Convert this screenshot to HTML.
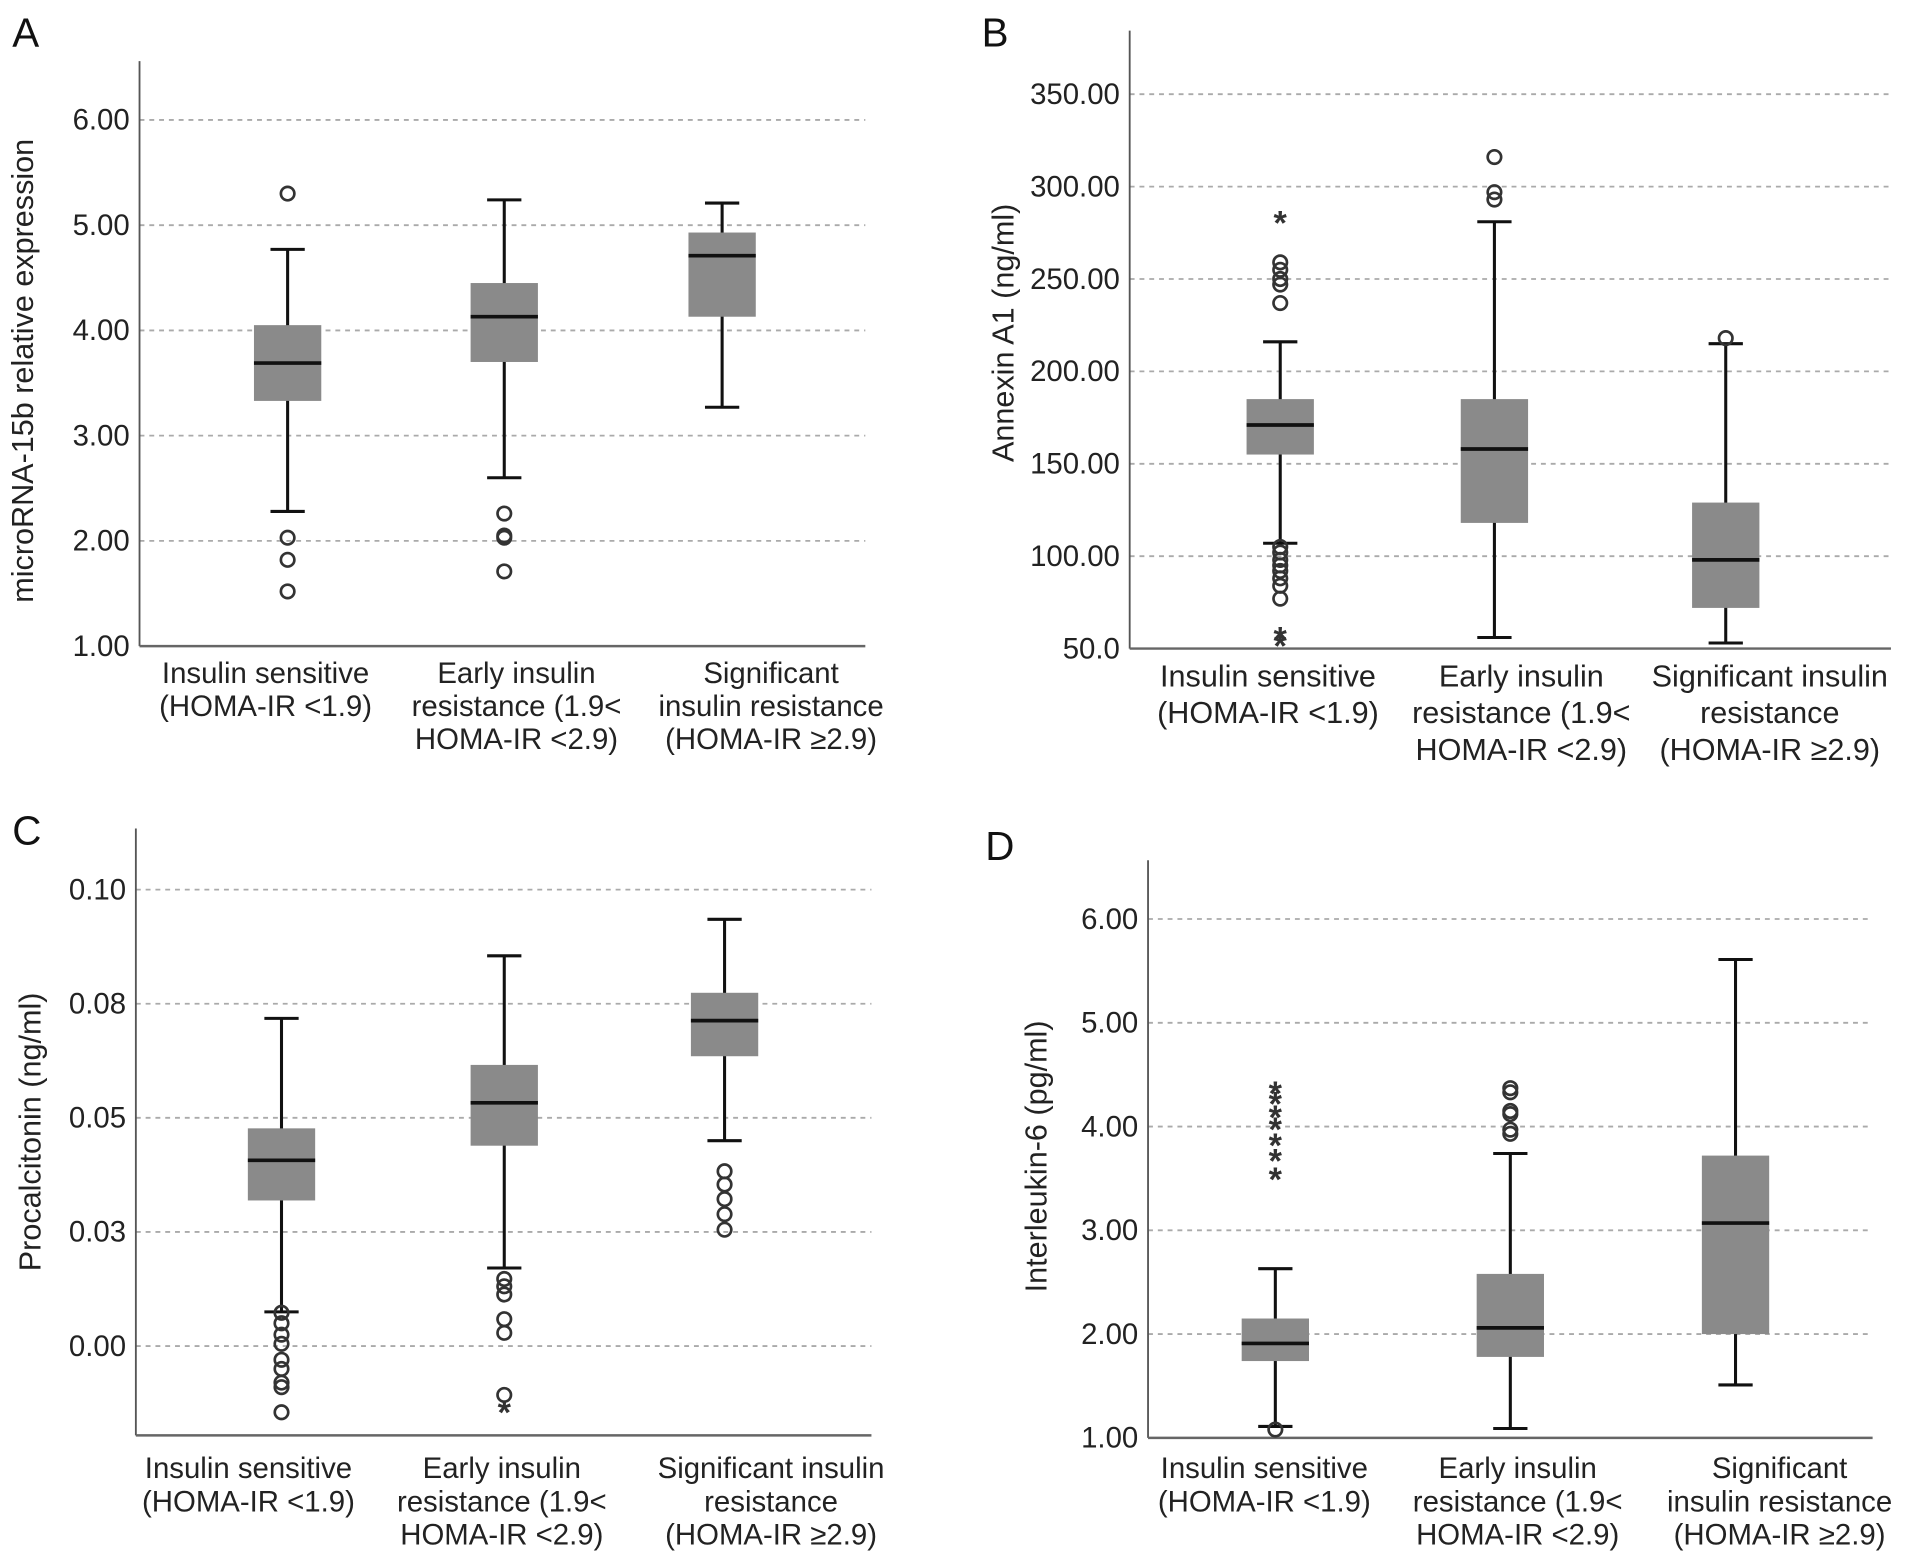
<!DOCTYPE html>
<html><head><meta charset="utf-8"><style>
html,body{margin:0;padding:0;background:#fff;}
svg{display:block;font-family:"Liberation Sans",Arial,sans-serif;}
</style></head><body>
<svg id="fig" width="1913" height="1559" viewBox="0 0 1563 1274" preserveAspectRatio="none" xmlns="http://www.w3.org/2000/svg"></svg>
<script>
// ---- data ----
const categories = [["Insulin sensitive","(HOMA-IR <1.9)"],["Early insulin","resistance (1.9<","HOMA-IR <2.9)"],["Significant","insulin resistance","(HOMA-IR \u22652.9)"]];
const categoriesB = [["Insulin sensitive","(HOMA-IR <1.9)"],["Early insulin","resistance (1.9<","HOMA-IR <2.9)"],["Significant insulin","resistance","(HOMA-IR \u22652.9)"]];
// A: [low, q1, median, q3, high]
const boxesA = [[2.28,3.33,3.69,4.05,4.77],[2.60,3.70,4.13,4.45,5.24],[3.27,4.13,4.71,4.93,5.21]];
const circlesA = [[5.30,2.03,1.82,1.52],[2.26,2.05,2.03,1.71],[]];
const starsA = [[],[],[]];
const ticksA = [1,2,3,4,5,6];
const tickLabelsA = ["1.00","2.00","3.00","4.00","5.00","6.00"];
// B
const boxesB = [[107,155,171,185,216],[56,118,158,185,281],[53,72,98,129,215]];
const circlesB = [[259,255,250,247,237,105,102,98,95,92,88,84,77],[316,297,293],[218]];
const starsB = [[282,57,53],[],[]];
const ticksB = [50,100,150,200,250,300,350];
const tickLabelsB = ["50.0","100.00","150.00","200.00","250.00","300.00","350.00"];
// C
const boxesC = [[0.0075,0.0319,0.0407,0.0477,0.0718],[0.0171,0.0439,0.0533,0.0616,0.0855],[0.045,0.0635,0.0713,0.0774,0.0935]];
const circlesC = [[0.0073,0.005,0.0025,0.0005,-0.003,-0.005,-0.008,-0.009,-0.0145],[0.0147,0.0131,0.0113,0.0059,0.0029,-0.0107],[0.0383,0.0354,0.0322,0.0289,0.0255]];
const starsC = [[],[-0.0139],[]];
const ticksC = [0,0.025,0.05,0.075,0.1];
const tickLabelsC = ["0.00","0.03","0.05","0.08","0.10"];
// D
const boxesD = [[1.11,1.74,1.91,2.15,2.63],[1.09,1.78,2.06,2.58,3.74],[1.51,2.00,3.07,3.72,5.61]];
const circlesD = [[1.08],[4.37,4.33,4.15,4.12,3.97,3.93],[]];
const starsD = [[4.35,4.25,4.12,4.0,3.85,3.7,3.52],[],[]];
const ticksD = [1,2,3,4,5,6];
const tickLabelsD = ["1.00","2.00","3.00","4.00","5.00","6.00"];

const NS="http://www.w3.org/2000/svg";
const svg=document.getElementById('fig');
function mk(tag,attrs,parent){const e=document.createElementNS(NS,tag);for(const k in attrs)e.setAttribute(k,attrs[k]);(parent||svg).appendChild(e);return e;}

const panels=[
 {id:'a',letter:'A',lx:10,ly:38,ax:114,top:50,bottom:528,right:707,vmin:1,vmax:6,ymax:98,cx:[235,412,590],lcx:[217,422,630],title:'microRNA-15b relative expression',tx:27,ty:303,boxes:boxesA,circles:circlesA,stars:starsA,ticks:ticksA,tl:tickLabelsA,cats:categories,catY:[558,585,612],fs:24},
 {id:'b',letter:'B',lx:802,ly:38,ax:923,top:25,bottom:530,right:1545,vmin:50,vmax:350,ymax:77,cx:[1046,1221,1410],lcx:[1036,1243,1446],title:'Annexin A1 (ng/ml)',tx:828,ty:272,boxes:boxesB,circles:circlesB,stars:starsB,ticks:ticksB,tl:tickLabelsB,cats:categoriesB,catY:[561,591,621],fs:25},
 {id:'c',letter:'C',lx:10,ly:690,ax:111,top:677,bottom:1173,right:712,vmin:0,vmax:0.1,ymax:727,ybase:1100,cx:[230,412,592],lcx:[203,410,630],title:'Procalcitonin (ng/ml)',tx:33,ty:925,boxes:boxesC,circles:circlesC,stars:starsC,ticks:ticksC,tl:tickLabelsC,cats:categoriesB,catY:[1208,1235,1262],fs:24},
 {id:'d',letter:'D',lx:805,ly:703,ax:938,top:703,bottom:1175,right:1530,vmin:1,vmax:6,ymax:751,cx:[1042,1234,1418],lcx:[1033,1240,1454],title:'Interleukin-6 (pg/ml)',tx:855,ty:945,boxes:boxesD,circles:circlesD,stars:starsD,ticks:ticksD,tl:tickLabelsD,cats:categoriesB,catY:[1208,1235,1262],fs:24}
];
panels[3].cats=[["Insulin sensitive","(HOMA-IR <1.9)"],["Early insulin","resistance (1.9<","HOMA-IR <2.9)"],["Significant","insulin resistance","(HOMA-IR \u22652.9)"]];

panels.forEach(p=>{
  const g=mk('g',{});
  
  
  const y0=p.ybase!==undefined?p.ybase:p.bottom;
  const y=v=>y0+(v-p.vmin)*(p.ymax-y0)/(p.vmax-p.vmin);
  const L=mk('text',{x:p.lx,y:p.ly,'font-size':33,fill:'#111'},g);L.textContent=p.letter;
  
  
  p.ticks.forEach((t,i)=>{
    if(y(t)<p.bottom-1){
      const gl=mk('line',{x1:p.ax,x2:p.right,y1:y(t),y2:y(t),stroke:'#aaa','stroke-width':1.5,'stroke-dasharray':'4 4'},g);
      
      
    }
    const tx=mk('text',{x:p.ax-8,y:y(t)+8,'font-size':24,'text-anchor':'end',fill:'#222'},g);tx.textContent=p.tl[i];
    
    
  });
  const ya=mk('line',{x1:p.ax,x2:p.ax,y1:p.top,y2:p.bottom,stroke:'#555','stroke-width':1.5},g);
  
  
  const xa=mk('line',{x1:p.ax,x2:p.right,y1:p.bottom,y2:p.bottom,stroke:'#666','stroke-width':2},g);
  
  
  const yt=mk('text',{x:p.tx,y:p.ty,'font-size':25,'text-anchor':'middle',fill:'#222',transform:`rotate(-90 ${p.tx} ${p.ty})`},g);
  yt.textContent=p.title;
  
  
  p.boxes.forEach((b,i)=>{
    const cx=p.cx[i],w=55,cw=28;
    const bg=mk('g',{},g);
    
    
    mk('line',{x1:cx,x2:cx,y1:y(b[0]),y2:y(b[4]),stroke:'#111','stroke-width':2.5},bg);
    mk('line',{x1:cx-cw/2,x2:cx+cw/2,y1:y(b[0]),y2:y(b[0]),stroke:'#111','stroke-width':2.5},bg);
    mk('line',{x1:cx-cw/2,x2:cx+cw/2,y1:y(b[4]),y2:y(b[4]),stroke:'#111','stroke-width':2.5},bg);
    mk('rect',{x:cx-w/2,y:y(b[3]),width:w,height:y(b[1])-y(b[3]),fill:'#8a8a8a'},bg);
    mk('line',{x1:cx-w/2,x2:cx+w/2,y1:y(b[2]),y2:y(b[2]),stroke:'#111','stroke-width':3},bg);
    p.circles[i].forEach(v=>{
      const c=mk('circle',{cx:cx,cy:y(v),r:5.5,fill:'none',stroke:'#333','stroke-width':2.2},bg);
      
      
    });
    p.stars[i].forEach(v=>{
      const s=mk('text',{x:cx,y:y(v)+12,'font-size':28,'font-weight':'bold','text-anchor':'middle',fill:'#333'},bg);s.textContent='*';
      
      
    });
    p.cats[i].forEach((line,j)=>{
      const t=mk('text',{x:p.lcx[i],y:p.catY[j],'font-size':p.fs,'text-anchor':'middle',fill:'#222'},g);t.textContent=line;
      
      
    });
  });
});
</script>
</body></html>
